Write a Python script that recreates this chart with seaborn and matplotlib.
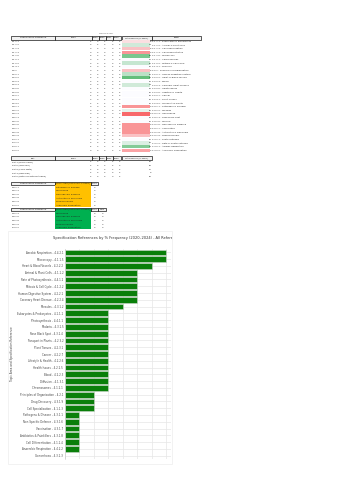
import numpy as np
import pandas as pd
import matplotlib
matplotlib.use("Agg")
import matplotlib.pyplot as plt
from matplotlib.patches import Rectangle
from matplotlib.colors import to_rgb
import seaborn as sns

# --- spreadsheet data (Paper 1 biology topics) ---
spec_refs = ["4.1.1.1", "4.1.1.2", "4.1.1.3", "4.1.1.4", "4.1.1.5", "4.1.2.1", "4.1.2.2", "4.1.3.1",
             "4.2.1", "4.2.2.1", "4.2.2.2", "4.2.2.3", "4.2.2.4", "4.2.2.5", "4.2.2.6", "4.2.2.7",
             "4.2.3.1", "4.2.3.2", "4.3.1.1", "4.3.1.2", "4.3.1.3", "4.3.1.4", "4.3.1.5", "4.3.1.6",
             "4.3.1.7", "4.3.1.8", "4.3.1.9", "4.4.1.1", "4.4.1.2", "4.4.2.1", "4.4.2.2"]
topics = ["Eukaryotes & Prokaryotes", "Animal & Plant Cells", "Cell Specialisation", "Cell Differentiation",
          "Microscopy", "Chromosomes", "Mitosis & Cell Cycle", "Diffusion", "Principles of Organisation",
          "Human Digestive System", "Heart & Blood Vessels", "Blood", "Coronary Heart Disease",
          "Health Issues", "Lifestyle & Health", "Cancer", "Plant Tissues", "Transport in Plants",
          "Pathogens & Disease", "Measles", "Gonorrhoea", "Rose Black Spot", "Malaria",
          "Non-Specific Defence", "Vaccination", "Antibiotics & Painkillers", "Drug Discovery",
          "Photosynthesis", "Rate of Photosynthesis", "Aerobic Respiration", "Anaerobic Respiration"]
years = ["2024", "2023", "2022", "2021", "2020"]
marks_2024 = [2, 3, 0, 0, 6, 0, 3, 2, 0, 4, 6, 4, 3, 2, 0, 2, 4, 2, 0, 3, 0, 2, 0, 0, 3, 0, 0, 2, 3, 5, 0]
marks_2023 = [0, 2, 3, 3, 4, 4, 3, 0, 2, 3, 4, 2, 3, 2, 4, 2, 0, 2, 0, 3, 0, 4, 2, 0, 0, 0, 0, 2, 3, 4, 0]
marks_2022 = [2, 4, 0, 0, 4, 2, 3, 4, 0, 3, 4, 0, 2, 2, 2, 0, 2, 2, 3, 3, 0, 0, 4, 0, 0, 0, 0, 2, 2, 4, 0]
marks_2021 = [2, 3, 0, 0, 4, 0, 3, 2, 2, 3, 6, 2, 3, 4, 2, 2, 2, 0, 0, 3, 0, 2, 2, 3, 0, 3, 3, 2, 3, 4, 4]
marks_2020 = [2, 2, 3, 0, 4, 4, 3, 2, 2, 3, 4, 2, 3, 0, 2, 4, 2, 4, 0, 0, 0, 2, 2, 0, 0, 0, 3, 2, 2, 4, 0]
total_marks = [8, 14, 6, 3, 22, 10, 15, 10, 6, 16, 24, 10, 14, 10, 10, 10, 10, 10, 3, 12, 0, 10, 10, 3,
               3, 3, 6, 10, 13, 21, 4]

rpa_names = ["RPA1 (Microscopy)", "RPA2 (Osmosis)", "RPA3 (Food Tests)", "RPA4 (Enzymes)",
             "RPA5 (Rate of Photosynthesis)"]
rpa_years = [[2, 4, 4, 2, 2], [2, 3, 4, 2, 4], [2, 3, 3, 2, 2], [2, 3, 3, 3, 2], [2, 3, 3, 0, 2]]
rpa_total = [10, 16, 17, 9, 12]

gap2_refs = ["4.3.1.1", "4.3.1.3", "4.3.1.6", "4.3.1.8", "4.3.1.9", "4.4.2.2"]
gap2_topics = ["Pathogens & Disease", "Gonorrhoea", "Non-Specific Defence", "Antibiotics & Painkillers",
               "Drug Discovery", "Anaerobic Respiration"]
gap3_refs = ["4.3.1.3", "4.3.1.6", "4.3.1.8", "4.3.1.9", "4.4.2.2"]
gap3_topics = ["Gonorrhoea", "Non-Specific Defence", "Antibiotics & Painkillers", "Drug Discovery",
               "Anaerobic Respiration"]

# --- bar chart data ---
bar_labels = ["Aerobic Respiration - 4.4.2.1", "Microscopy - 4.1.1.5", "Heart & Blood Vessels - 4.2.2.2",
              "Animal & Plant Cells - 4.1.1.2", "Rate of Photosynthesis - 4.4.1.2",
              "Mitosis & Cell Cycle - 4.1.2.2", "Human Digestive System - 4.2.2.1",
              "Coronary Heart Disease - 4.2.2.4", "Measles - 4.3.1.2", "Eukaryotes & Prokaryotes - 4.1.1.1",
              "Photosynthesis - 4.4.1.1", "Malaria - 4.3.1.5", "Rose Black Spot - 4.3.1.4",
              "Transport in Plants - 4.2.3.2", "Plant Tissues - 4.2.3.1", "Cancer - 4.2.2.7",
              "Lifestyle & Health - 4.2.2.6", "Health Issues - 4.2.2.5", "Blood - 4.2.2.3",
              "Diffusion - 4.1.3.1", "Chromosomes - 4.1.2.1", "Principles of Organisation - 4.2.1",
              "Drug Discovery - 4.3.1.9", "Cell Specialisation - 4.1.1.3", "Pathogens & Disease - 4.3.1.1",
              "Non-Specific Defence - 4.3.1.6", "Vaccination - 4.3.1.7", "Antibiotics & Painkillers - 4.3.1.8",
              "Cell Differentiation - 4.1.1.4", "Anaerobic Respiration - 4.4.2.2", "Gonorrhoea - 4.3.1.3"]
bar_freq = [7, 7, 6, 5, 5, 5, 5, 5, 4, 3, 3, 3, 3, 3, 3, 3, 3, 3, 3, 3, 3, 2, 2, 2, 1, 1, 1, 1, 1, 1, 0]

sns.set_theme(style="whitegrid")
plt.rcParams["font.family"] = ["DejaVu Sans"]

fig = plt.figure(figsize=(3.53, 5.0), dpi=100)
sheet = fig.add_axes([0, 0, 1, 1])
sheet.set_xlim(0, 353)
sheet.set_ylim(500, 0)
sheet.axis("off")

FS = 1.6
ROW = 3.63
TXT = "#222222"


def cell(x0, x1, y0, h, text="", fill=None, edge=None, ha="center", fs=FS):
    if fill is not None or edge is not None:
        sheet.add_patch(Rectangle((x0, y0), x1 - x0, h, facecolor=fill if fill is not None else "none",
                                  edgecolor=edge if edge is not None else "none", lw=0.45))
    if text != "":
        tx = {"center": (x0 + x1) / 2, "left": x0 + 0.6, "right": x1 - 0.6}[ha]
        sheet.text(tx, y0 + h / 2, str(text), ha=ha, va="center", fontsize=fs, color=TXT)


def scale_colour(v, lo, mid, hi):
    red, white, green = (np.array(to_rgb(c)) for c in ("#F8696B", "#FCFCFF", "#63BE7B"))
    if v <= mid:
        t = (v - lo) / (mid - lo)
        return tuple(red + (white - red) * t)
    t = (v - mid) / (hi - mid)
    return tuple(white + (green - white) * t)


HEAD_FILL = "#f2f2f2"
year_edges = [55, 91.7, 98.95, 106.2, 113.45, 120.7]

# main table
sheet.text(106, 33, "Marks per Year", ha="center", va="center", fontsize=1.4, color="#555555")
hy = 35.9
cell(11, 55, hy, ROW, "Specification Reference", HEAD_FILL, "black")
for i, yr in enumerate(years):
    cell(year_edges[i], year_edges[i + 1], hy, ROW, yr, HEAD_FILL, "black")
cell(121.7, 151.7, hy, ROW, "Total Marks (5 Years)", HEAD_FILL, "black")
cell(151.7, 201, hy, ROW, "Label", HEAD_FILL, "black")

year_cols = [marks_2024, marks_2023, marks_2022, marks_2021, marks_2020]
lo, mid, hi = min(total_marks), float(np.percentile(total_marks, 50)), max(total_marks)
for r, ref in enumerate(spec_refs):
    y0 = hy + ROW + r * ROW
    cell(11, 55, y0, ROW, ref, ha="left")
    for i, col in enumerate(year_cols):
        cell(year_edges[i], year_edges[i + 1], y0, ROW, col[r], ha="right")
    cell(122.2, 149.6, y0 + 0.15, ROW - 0.3, fill=scale_colour(total_marks[r], lo, mid, hi))
    cell(121.7, 151.7, y0, ROW, total_marks[r], ha="right")
    cell(151.7, 201, y0, ROW, f"{ref} - {topics[r]}", ha="left")

# required practicals table
hy2 = 156.4
cell(11, 55, hy2, ROW, "RPA", HEAD_FILL, "black")
for i, yr in enumerate(years):
    cell(year_edges[i], year_edges[i + 1], hy2, ROW, yr, HEAD_FILL, "black")
cell(121.7, 151.7, hy2, ROW, "Total Marks (5 Years)", HEAD_FILL, "black")
for r, name in enumerate(rpa_names):
    y0 = hy2 + ROW + r * ROW
    cell(11, 55, y0, ROW, name, ha="left")
    for i in range(5):
        cell(year_edges[i], year_edges[i + 1], y0, ROW, rpa_years[r][i], ha="right")
    cell(121.7, 151.7, y0, ROW, rpa_total[r], ha="right")

# topics missing from recent papers
hy3 = 181.6
cell(11, 55, hy3, ROW, "Specification Reference", HEAD_FILL, "black")
cell(55, 90.7, hy3, ROW, "Topic Area (not in last 2 years)", "#FFC000", "black")
cell(90.7, 98.3, hy3, ROW, "Marks", HEAD_FILL, "black")
for r, ref in enumerate(gap2_refs):
    y0 = hy3 + ROW + r * ROW
    cell(11, 55, y0, ROW, ref, ha="left")
    cell(55, 90.7, y0, ROW, gap2_topics[r], fill="#FFC000", ha="left")
    cell(90.7, 98.3, y0, ROW, 0)

hy4 = 207.7
cell(11, 55, hy4, ROW, "Specification Reference", HEAD_FILL, "black")
cell(55, 90.7, hy4, ROW, "Topic Area (not in last 3 years)", "#00B050", "black")
cell(90.7, 98.3, hy4, ROW, "Marks", HEAD_FILL, "black")
cell(98.3, 106, hy4, ROW, "Freq", HEAD_FILL, "black")
for r, ref in enumerate(gap3_refs):
    y0 = hy4 + ROW + r * ROW
    cell(11, 55, y0, ROW, ref, ha="left")
    cell(55, 90.7, y0, ROW, gap3_topics[r], fill="#00B050", ha="left")
    cell(90.7, 98.3, y0, ROW, 0)
    cell(98.3, 106, y0, ROW, 0)

# embedded chart (cropped on the right)
sheet.add_patch(Rectangle((8, 231), 164, 233, fill=False, edgecolor="#ededed", lw=0.5))
title = sheet.text(53, 238, "Specification References by % Frequency (2020\u20132024) - All References",
                   ha="left", va="center", fontsize=2.65, color="#333333", clip_on=True)
title.set_clip_path(Rectangle((0, 0), 172, 500, transform=sheet.transData))

bars = fig.add_axes([65 / 353, 1 - 459 / 500, 106 / 353, 210 / 500])
df = pd.DataFrame({"label": bar_labels, "freq": bar_freq})
sns.barplot(data=df, x="freq", y="label", color="#0a7f0a", saturation=1, width=0.85,
            edgecolor="#cfd8cf", linewidth=0.4, ax=bars)
bars.set_xlim(0, 7.35)
bars.set_xticks(range(8))
bars.set_xticklabels([])
bars.yaxis.grid(True)
bars.xaxis.grid(True)
bars.grid(color="#e6e6e6", lw=0.5)
bars.set_axisbelow(True)
bars.tick_params(axis="y", labelsize=1.9, pad=1.3, length=0, colors="#444444")
bars.tick_params(axis="x", length=0)
bars.set_xlabel("")
bars.set_ylabel("Topic Area and Specification Reference", fontsize=2.1, color="#444444")
bars.yaxis.set_label_coords((14 - 65) / 106, 0.5)
for side in ("top", "right", "bottom"):
    bars.spines[side].set_visible(False)
bars.spines["left"].set_color("#d0d0d0")
bars.spines["left"].set_linewidth(0.5)

fig.savefig("out.png", dpi=100)
plt.close(fig)
